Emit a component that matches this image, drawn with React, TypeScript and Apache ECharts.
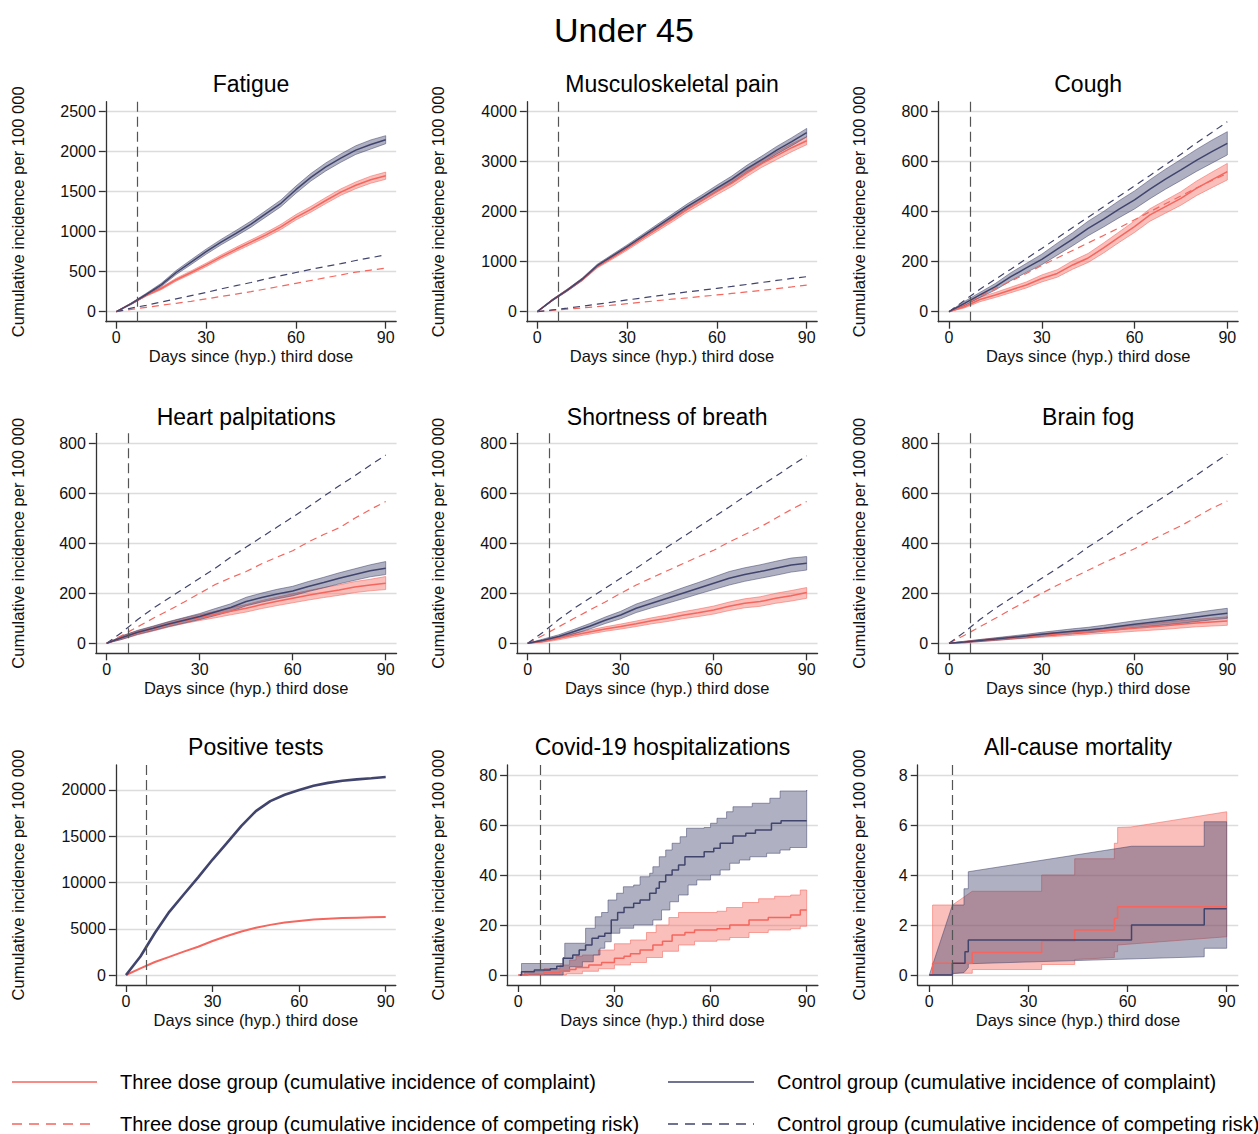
import React, { useEffect, useRef } from 'react';
import * as echarts from 'echarts';

type P = [number, number];

// ---------- DATA ----------
const DAYS = [0, 5, 10, 15, 20, 25, 30, 35, 40, 45, 50, 55, 60, 65, 70, 75, 80, 85, 90];

// Fatigue
const fatCtrl = [0, 100, 215, 335, 490, 620, 750, 870, 980, 1095, 1225, 1355, 1525, 1680, 1810, 1920, 2020, 2090, 2150];
const fatCtrlLo = [0, 90, 200, 315, 465, 590, 718, 836, 944, 1057, 1185, 1313, 1480, 1633, 1760, 1868, 1966, 2033, 2100];
const fatCtrlHi = [0, 110, 230, 355, 515, 650, 782, 904, 1016, 1133, 1265, 1397, 1570, 1727, 1860, 1972, 2074, 2147, 2200];
const fatThree = [0, 100, 205, 290, 400, 490, 585, 685, 780, 870, 960, 1060, 1180, 1280, 1390, 1495, 1580, 1650, 1700];
const fatThreeLo = [0, 92, 193, 275, 382, 470, 563, 661, 754, 842, 930, 1028, 1146, 1244, 1352, 1455, 1538, 1606, 1655];
const fatThreeHi = [0, 108, 217, 305, 418, 510, 607, 709, 806, 898, 990, 1092, 1214, 1316, 1428, 1535, 1622, 1694, 1745];
const fatCompCtrl = [0, 45, 80, 120, 160, 200, 240, 285, 325, 365, 410, 450, 490, 530, 565, 600, 640, 675, 710];
const fatCompThree = [0, 30, 55, 80, 105, 130, 160, 190, 220, 250, 285, 320, 355, 390, 425, 460, 495, 520, 545];

// Musculoskeletal pain
const mskCtrl = [0, 230, 430, 650, 920, 1110, 1300, 1500, 1700, 1900, 2100, 2280, 2470, 2650, 2860, 3040, 3230, 3400, 3580];
const mskCtrlLo = [0, 215, 410, 626, 892, 1078, 1264, 1460, 1656, 1852, 2048, 2224, 2410, 2586, 2792, 2968, 3154, 3320, 3495];
const mskCtrlHi = [0, 245, 450, 674, 948, 1142, 1336, 1540, 1744, 1948, 2152, 2336, 2530, 2714, 2928, 3112, 3306, 3480, 3665];
const mskThree = [0, 230, 430, 640, 900, 1080, 1265, 1460, 1650, 1840, 2040, 2220, 2400, 2570, 2770, 2960, 3120, 3280, 3420];
const mskThreeLo = [0, 215, 410, 616, 872, 1048, 1229, 1420, 1606, 1792, 1988, 2164, 2340, 2506, 2702, 2888, 3044, 3200, 3340];
const mskThreeHi = [0, 245, 450, 664, 928, 1112, 1301, 1500, 1694, 1888, 2092, 2276, 2460, 2634, 2838, 3032, 3196, 3360, 3500];
const mskCompCtrl = [0, 35, 70, 110, 150, 190, 235, 275, 315, 355, 395, 430, 467, 505, 545, 585, 625, 665, 700];
const mskCompThree = [0, 25, 50, 75, 100, 130, 160, 190, 220, 250, 275, 305, 335, 365, 395, 425, 460, 495, 533];

// Cough
const coughCtrl = [0, 33, 67, 100, 140, 175, 209, 250, 290, 333, 370, 410, 447, 490, 530, 567, 605, 640, 673];
const coughCtrlLo = [0, 25, 57, 87, 124, 157, 188, 226, 264, 304, 339, 376, 411, 452, 490, 525, 561, 594, 627];
const coughCtrlHi = [0, 41, 77, 113, 156, 193, 230, 274, 316, 362, 401, 444, 483, 528, 570, 609, 649, 686, 720];
const coughThree = [0, 20, 49, 67, 87, 107, 133, 153, 187, 215, 255, 298, 340, 387, 420, 453, 493, 527, 560];
const coughThreeLo = [0, 15, 40, 57, 76, 95, 119, 138, 170, 197, 235, 277, 317, 362, 394, 426, 464, 496, 527];
const coughThreeHi = [0, 25, 58, 77, 98, 119, 147, 168, 204, 233, 275, 319, 363, 412, 446, 480, 522, 558, 593];
const coughCompCtrl = [0, 45, 90, 130, 170, 212, 253, 295, 337, 378, 420, 462, 503, 545, 588, 630, 675, 717, 760];
const coughCompThree = [0, 30, 62, 93, 122, 153, 185, 215, 245, 275, 305, 335, 368, 400, 432, 463, 495, 525, 553];

// Heart palpitations
const heartCtrl = [0, 23, 44, 60, 77, 92, 107, 125, 143, 167, 183, 197, 209, 227, 243, 260, 275, 290, 300];
const heartCtrlLo = [0, 16, 36, 51, 67, 81, 95, 111, 128, 150, 165, 178, 190, 207, 222, 238, 252, 266, 275];
const heartCtrlHi = [0, 30, 52, 69, 87, 103, 119, 139, 158, 184, 201, 216, 228, 247, 264, 282, 298, 314, 327];
const heartThree = [0, 23, 42, 58, 75, 90, 103, 115, 128, 140, 155, 168, 180, 192, 203, 213, 225, 233, 240];
const heartThreeLo = [0, 16, 34, 49, 65, 79, 91, 102, 114, 125, 139, 151, 162, 173, 183, 192, 203, 210, 215];
const heartThreeHi = [0, 30, 50, 67, 85, 101, 115, 128, 142, 155, 171, 185, 198, 211, 223, 234, 247, 256, 267];
const heartCompCtrl = [0, 45, 95, 140, 180, 220, 260, 300, 345, 385, 425, 465, 505, 545, 588, 630, 670, 712, 753];
const heartCompThree = [0, 32, 66, 100, 132, 165, 200, 235, 262, 287, 318, 345, 370, 405, 435, 462, 500, 535, 567];

// Shortness of breath
const sobCtrl = [0, 12, 27, 47, 68, 92, 113, 140, 160, 180, 200, 220, 240, 260, 275, 287, 300, 313, 320];
const sobCtrlLo = [0, 7, 20, 38, 57, 79, 98, 123, 142, 160, 178, 197, 215, 233, 248, 260, 272, 285, 293];
const sobCtrlHi = [0, 17, 34, 56, 79, 105, 128, 157, 178, 200, 222, 243, 265, 287, 302, 314, 328, 341, 347];
const sobThree = [0, 8, 20, 33, 45, 57, 67, 78, 90, 100, 112, 122, 133, 148, 160, 167, 180, 190, 203];
const sobThreeLo = [0, 4, 14, 26, 37, 48, 57, 67, 78, 87, 98, 107, 117, 131, 142, 148, 160, 169, 180];
const sobThreeHi = [0, 12, 26, 40, 53, 66, 77, 89, 102, 113, 126, 137, 149, 165, 178, 186, 200, 211, 223];
const sobCompCtrl = [0, 45, 95, 140, 180, 220, 260, 300, 342, 385, 425, 465, 505, 545, 588, 628, 668, 710, 750];
const sobCompThree = [0, 32, 66, 100, 133, 165, 200, 233, 262, 290, 318, 346, 372, 405, 435, 465, 500, 535, 567];

// Brain fog
const fogCtrl = [0, 5, 11, 17, 23, 29, 36, 42, 48, 53, 60, 68, 76, 83, 90, 97, 105, 113, 120];
const fogCtrlLo = [0, 2, 7, 12, 17, 22, 28, 33, 38, 42, 48, 55, 62, 68, 74, 80, 87, 94, 100];
const fogCtrlHi = [0, 8, 15, 22, 29, 36, 44, 51, 58, 64, 72, 81, 90, 98, 106, 114, 123, 132, 140];
const fogThree = [0, 5, 11, 16, 21, 26, 31, 36, 40, 45, 50, 55, 60, 65, 70, 76, 81, 85, 89];
const fogThreeLo = [0, 2, 7, 11, 16, 20, 24, 28, 32, 36, 40, 44, 48, 52, 56, 61, 66, 69, 72];
const fogThreeHi = [0, 8, 15, 21, 26, 32, 38, 44, 48, 54, 60, 66, 72, 78, 84, 91, 96, 101, 106];
const fogCompCtrl = [0, 45, 95, 140, 180, 220, 260, 300, 340, 385, 425, 467, 510, 550, 590, 630, 672, 715, 756];
const fogCompThree = [0, 32, 66, 100, 135, 168, 200, 232, 262, 292, 322, 350, 378, 410, 440, 470, 505, 540, 569];

// Positive tests
const posCtrl = [0, 2000, 4540, 6830, 8700, 10560, 12480, 14280, 16120, 17710, 18800, 19480, 20000, 20450, 20770, 21000, 21150, 21270, 21400];
const posThree = [0, 710, 1410, 1960, 2530, 3060, 3680, 4220, 4710, 5100, 5420, 5680, 5840, 5990, 6090, 6160, 6200, 6230, 6260];

// Covid-19 hospitalizations: [day, value] step points
const hospCtrl: P[] = [[0.5, 0], [1, 1.3], [5, 2], [10, 2.5], [12, 3.5], [14, 6.7], [17, 8], [19, 10], [21, 12], [23, 14.7], [25, 15.5], [27, 16.7], [29, 22], [31, 25], [33, 27], [36, 28.7], [38, 30], [41, 32.7], [43, 34.7], [44, 37.3], [46, 40], [48, 42], [50, 44], [52, 47.3], [58, 49.3], [61, 50.7], [63, 52.7], [67, 55.6], [71, 56.7], [74, 58], [79, 60.7], [82, 61.7], [90, 61.7]];
const hospCtrlHi: P[] = [[0.5, 0], [1, 4.6], [13, 4.6], [14, 7], [14.5, 12.7], [20, 12.7], [21, 18.7], [24, 23.3], [26, 25], [28, 30], [30.7, 32.7], [32.8, 35.3], [36, 36], [38, 39.3], [41, 40.7], [42, 43.3], [44, 47.3], [46, 50], [48, 52.7], [50.5, 55.3], [52.5, 58.7], [58, 59], [60, 60.7], [62, 62.7], [65, 65.3], [67, 67.3], [73, 68.7], [78.5, 70.7], [81.7, 73.6], [90, 74]];
const hospCtrlLo: P[] = [[0.5, 0], [13, 0], [14, 1.5], [16, 3.3], [20, 5.3], [23.4, 8], [25.5, 10.7], [27, 13.3], [29, 16.7], [31.7, 18.7], [36, 20], [42, 22], [44.7, 26], [47.3, 29.3], [50, 32], [53, 36], [55.7, 38], [60, 40], [63, 42], [66, 44.7], [69, 46], [72.3, 47.3], [77.5, 48.7], [81.7, 50], [84.8, 51], [90, 51]];
const hospThree: P[] = [[0, 0], [3, 0.5], [8, 1], [13, 1.5], [16, 2.2], [18, 3], [22, 4], [26, 5], [30, 6.7], [33, 7.5], [35, 8.5], [38, 10], [42, 12], [45, 13.5], [48, 16], [52, 17], [55, 18], [62, 18.5], [66, 20], [72, 22], [78, 23], [85, 24], [88, 26], [90, 26]];
const hospThreeHi: P[] = [[0, 0], [2, 1.5], [8, 2.5], [13, 4], [16, 6], [18, 7.5], [20, 8], [25, 10], [30, 12.5], [35, 14], [40, 17], [43, 20], [47, 23], [50, 25], [62, 25.5], [65, 27], [70, 29], [75, 30.5], [80, 31.5], [85, 32], [88, 34], [90, 34]];
const hospThreeLo: P[] = [[0, 0], [10, 0], [15, 0.5], [20, 1.5], [25, 2.5], [30, 4], [35, 5], [40, 7], [45, 9.5], [50, 12], [55, 13.5], [62, 14], [66, 15], [72, 17], [78, 18], [85, 18.5], [88, 19.5], [90, 19.5]];

// All-cause mortality
const mortCtrl: P[] = [[0, 0], [7, 0.47], [10.8, 0.93], [11.8, 1.4], [61.2, 2.0], [83.2, 2.65], [90, 2.65]];
const mortCtrlHi: P[] = [[0, 0], [7, 2.8], [10.5, 2.8], [10.5, 3.45], [11.8, 3.45], [11.8, 4.13], [61.2, 5.15], [83.2, 5.15], [83.2, 6.13], [90, 6.13]];
const mortCtrlLo: P[] = [[0, 0], [7, 0], [7, 0.05], [10.5, 0.1], [11.8, 0.3], [11.8, 0.45], [83.2, 0.73], [83.2, 1.07], [90, 1.07]];
const mortThree: P[] = [[0, 0], [1, 0.47], [13, 0.9], [34, 1.35], [44, 1.8], [56, 2.27], [57, 2.73], [90, 2.73]];
const mortThreeHi: P[] = [[0, 0], [1, 0], [1, 2.8], [7, 2.8], [13, 3.35], [34, 3.35], [34, 4.0], [44, 4.0], [44, 4.65], [56, 4.65], [56, 5.27], [57, 5.27], [57, 5.9], [61, 5.92], [90, 6.53]];
const mortThreeLo: P[] = [[0, 0], [7, 0], [7, 0.07], [13, 0.07], [13, 0.22], [34, 0.22], [34, 0.42], [44, 0.42], [44, 0.62], [56, 0.7], [56, 0.93], [57, 0.93], [57, 1.2], [90, 1.53]];

const TITLES = ['Fatigue', 'Musculoskeletal pain', 'Cough', 'Heart palpitations', 'Shortness of breath', 'Brain fog', 'Positive tests', 'Covid-19 hospitalizations', 'All-cause mortality'];
const Y_TOPS = [2500, 4000, 800, 800, 800, 800, 20000, 80, 8];
const Y_STEPS = [500, 1000, 200, 200, 200, 200, 5000, 20, 2];
const LEGEND_LABELS = [
  'Three dose group (cumulative incidence of complaint)',
  'Three dose group (cumulative incidence of competing risk)',
  'Control group (cumulative incidence of complaint)',
  'Control group (cumulative incidence of competing risk)',
];
const MAIN_TITLE = 'Under 45';
const Y_NAME = 'Cumulative incidence per 100 000';
const X_NAME = 'Days since (hyp.) third dose';

// ---------- STYLE / LAYOUT ----------
const NAVY = '#41446d';
const SALMON = '#f4665e';
const NAVY_BAND = 'rgba(65,68,109,0.42)';
const SALMON_BAND = 'rgba(244,102,94,0.42)';
const NAVY_EDGE = 'rgba(65,68,109,0.65)';
const SALMON_EDGE = 'rgba(244,102,94,0.7)';
const FONT = 'Liberation Sans, Arial, Helvetica, sans-serif';
const TXT = '#111';
const AX = '#333';

const LAYOUT = [
  { x0: 116.3, x90: 385.7, top: 101.7, gap: 79 },
  { x0: 537.3, x90: 806.7, top: 101.7, gap: 80 },
  { x0: 949, x90: 1227.3, top: 101.7, gap: 70 },
  { x0: 106.7, x90: 385.7, top: 433.3, gap: 69 },
  { x0: 527.7, x90: 806.7, top: 433.3, gap: 70 },
  { x0: 949, x90: 1227.3, top: 433.3, gap: 70 },
  { x0: 126, x90: 385.7, top: 765, gap: 89 },
  { x0: 518.3, x90: 806.7, top: 765, gap: 60 },
  { x0: 929.3, x90: 1226.7, top: 765, gap: 50 },
];
const PLOT_H = 220;
const TITLE_Y = [84, 416.5, 747];
const X_MIN = -3.5;
const X_MAX = 93.5;

const zip = (xs: number[], ys: number[]): P[] => xs.map((x, i) => [x, ys[i]] as P);
const stepify = (pts: P[]): P[] => {
  const out: P[] = [];
  pts.forEach((p, i) => {
    out.push(p);
    if (i < pts.length - 1) out.push([pts[i + 1][0], p[1]]);
  });
  return out;
};

function band(gi: number, hi: P[], lo: P[], fill: string, edge: string, step: boolean) {
  return {
    type: 'custom',
    xAxisIndex: gi,
    yAxisIndex: gi,
    z: 1,
    silent: true,
    data: [[0, 0]],
    renderItem: (_params: any, api: any) => {
      const up = step ? stepify(hi) : hi;
      const dn = step ? stepify(lo) : lo;
      const pts = up.map((p) => api.coord(p)).concat(dn.slice().reverse().map((p) => api.coord(p)));
      return {
        type: 'polygon',
        shape: { points: pts },
        style: { fill, stroke: edge, lineWidth: 0.8 },
      };
    },
  };
}

function line(gi: number, pts: P[], color: string, opts: { dashed?: boolean; step?: boolean; width?: number } = {}) {
  return {
    type: 'line',
    xAxisIndex: gi,
    yAxisIndex: gi,
    data: pts,
    showSymbol: false,
    symbol: 'none',
    silent: true,
    z: opts.dashed ? 3 : 4,
    step: opts.step ? 'end' : false,
    lineStyle: { color, width: opts.width ?? (opts.dashed ? 1.2 : 1.5), type: opts.dashed ? [7, 5] : 'solid' },
    itemStyle: { color },
  };
}

function refLine(gi: number) {
  return {
    type: 'line',
    xAxisIndex: gi,
    yAxisIndex: gi,
    data: [],
    silent: true,
    markLine: {
      silent: true,
      symbol: ['none', 'none'],
      label: { show: false },
      lineStyle: { color: '#555', type: [10, 5], width: 1.2 },
      data: [{ xAxis: 7 }],
    },
  };
}

type ContPanel = { ctrl: number[]; ctrlLo: number[]; ctrlHi: number[]; three: number[]; threeLo: number[]; threeHi: number[]; compCtrl: number[]; compThree: number[] };
const CONT: ContPanel[] = [
  { ctrl: fatCtrl, ctrlLo: fatCtrlLo, ctrlHi: fatCtrlHi, three: fatThree, threeLo: fatThreeLo, threeHi: fatThreeHi, compCtrl: fatCompCtrl, compThree: fatCompThree },
  { ctrl: mskCtrl, ctrlLo: mskCtrlLo, ctrlHi: mskCtrlHi, three: mskThree, threeLo: mskThreeLo, threeHi: mskThreeHi, compCtrl: mskCompCtrl, compThree: mskCompThree },
  { ctrl: coughCtrl, ctrlLo: coughCtrlLo, ctrlHi: coughCtrlHi, three: coughThree, threeLo: coughThreeLo, threeHi: coughThreeHi, compCtrl: coughCompCtrl, compThree: coughCompThree },
  { ctrl: heartCtrl, ctrlLo: heartCtrlLo, ctrlHi: heartCtrlHi, three: heartThree, threeLo: heartThreeLo, threeHi: heartThreeHi, compCtrl: heartCompCtrl, compThree: heartCompThree },
  { ctrl: sobCtrl, ctrlLo: sobCtrlLo, ctrlHi: sobCtrlHi, three: sobThree, threeLo: sobThreeLo, threeHi: sobThreeHi, compCtrl: sobCompCtrl, compThree: sobCompThree },
  { ctrl: fogCtrl, ctrlLo: fogCtrlLo, ctrlHi: fogCtrlHi, three: fogThree, threeLo: fogThreeLo, threeHi: fogThreeHi, compCtrl: fogCompCtrl, compThree: fogCompThree },
];

function buildOption() {
  const grids: any[] = [];
  const xAxes: any[] = [];
  const yAxes: any[] = [];
  const series: any[] = [];
  const graphics: any[] = [];

  LAYOUT.forEach((L, i) => {
    const ppd = (L.x90 - L.x0) / 90;
    const left = L.x0 + X_MIN * ppd;
    const width = (X_MAX - X_MIN) * ppd;
    grids.push({ left, top: L.top, width, height: PLOT_H, containLabel: false, outerBoundsMode: 'none', show: false });
    xAxes.push({
      gridIndex: i,
      type: 'value',
      min: X_MIN,
      max: X_MAX,
      minInterval: 30,
      maxInterval: 30,
      axisLine: { show: true, onZero: false, lineStyle: { color: AX, width: 1.3 } },
      axisTick: { show: true, length: 7, lineStyle: { color: AX, width: 1.3 } },
      axisLabel: { showMinLabel: false, showMaxLabel: false, fontSize: 16, color: TXT, fontFamily: FONT, margin: 8, formatter: (v: number) => String(v) },
      splitLine: { show: false },
      name: X_NAME,
      nameLocation: 'middle',
      nameGap: 26,
      nameTextStyle: { fontSize: 16.5, color: TXT, fontFamily: FONT },
    });
    const T = Y_TOPS[i];
    yAxes.push({
      gridIndex: i,
      type: 'value',
      min: i === 6 ? -1080 : -0.05 * T,
      max: i === 6 ? 22700 : 1.05 * T,
      minInterval: Y_STEPS[i],
      maxInterval: Y_STEPS[i],
      axisLine: { show: true, onZero: false, lineStyle: { color: AX, width: 1.3 } },
      axisTick: { show: true, length: 7, lineStyle: { color: AX, width: 1.3 } },
      axisLabel: { showMinLabel: false, showMaxLabel: false, fontSize: 16, color: TXT, fontFamily: FONT, margin: 10, formatter: (v: number) => String(v) },
      splitLine: { show: true, showMinLine: false, showMaxLine: false, lineStyle: { color: '#dcdcdc', width: 1.4 } },
      name: Y_NAME,
      nameLocation: 'middle',
      nameGap: L.gap,
      nameTextStyle: { fontSize: 16.6, color: TXT, fontFamily: FONT },
    });
    graphics.push({
      type: 'text',
      x: left + width / 2,
      y: TITLE_Y[Math.floor(i / 3)],
      style: { text: TITLES[i], fontSize: 23, fontFamily: FONT, fill: '#000', align: 'center', verticalAlign: 'middle', textAlign: 'center', textVerticalAlign: 'middle' },
    });
  });

  // continuous panels
  CONT.forEach((c, i) => {
    series.push(band(i, zip(DAYS, c.threeHi), zip(DAYS, c.threeLo), SALMON_BAND, SALMON_EDGE, false));
    series.push(band(i, zip(DAYS, c.ctrlHi), zip(DAYS, c.ctrlLo), NAVY_BAND, NAVY_EDGE, false));
    series.push(line(i, zip(DAYS, c.compThree), SALMON, { dashed: true }));
    series.push(line(i, zip(DAYS, c.compCtrl), NAVY, { dashed: true }));
    series.push(line(i, zip(DAYS, c.three), SALMON));
    series.push(line(i, zip(DAYS, c.ctrl), NAVY));
    series.push(refLine(i));
  });

  // positive tests
  series.push(line(6, zip(DAYS, posThree), SALMON, { width: 2 }));
  series.push(line(6, zip(DAYS, posCtrl), NAVY, { width: 2.6 }));
  series.push(refLine(6));

  // hospitalizations
  series.push(band(7, hospThreeHi, hospThreeLo, SALMON_BAND, SALMON_EDGE, true));
  series.push(band(7, hospCtrlHi, hospCtrlLo, NAVY_BAND, NAVY_EDGE, true));
  series.push(line(7, hospThree, SALMON, { step: true }));
  series.push(line(7, hospCtrl, NAVY, { step: true }));
  series.push(refLine(7));

  // mortality
  series.push(band(8, mortThreeHi, mortThreeLo, SALMON_BAND, SALMON_EDGE, false));
  series.push(band(8, mortCtrlHi, mortCtrlLo, NAVY_BAND, NAVY_EDGE, false));
  series.push(line(8, mortThree, SALMON, { step: true }));
  series.push(line(8, mortCtrl, NAVY, { step: true }));
  series.push(refLine(8));

  // main title
  graphics.push({
    type: 'text',
    x: 624,
    y: 30,
    style: { text: MAIN_TITLE, fontSize: 34, fontFamily: FONT, fill: '#000', align: 'center', verticalAlign: 'middle', textAlign: 'center', textVerticalAlign: 'middle' },
  });

  // legend
  const legendItems = [
    { x1: 12, x2: 97, tx: 120, y: 1082, color: SALMON, dash: false, label: LEGEND_LABELS[0] },
    { x1: 12, x2: 97, tx: 120, y: 1124, color: SALMON, dash: true, label: LEGEND_LABELS[1] },
    { x1: 668, x2: 754, tx: 777, y: 1082, color: NAVY, dash: false, label: LEGEND_LABELS[2] },
    { x1: 668, x2: 754, tx: 777, y: 1124, color: NAVY, dash: true, label: LEGEND_LABELS[3] },
  ];
  legendItems.forEach((it) => {
    graphics.push({
      type: 'line',
      shape: { x1: it.x1, y1: it.y, x2: it.x2, y2: it.y },
      style: { stroke: it.color, lineWidth: 1.6, lineDash: it.dash ? [10, 7] : null },
    });
    graphics.push({
      type: 'text',
      x: it.tx,
      y: it.y,
      style: { text: it.label, fontSize: 20, fontFamily: FONT, fill: '#000', align: 'left', verticalAlign: 'middle', textAlign: 'left', textVerticalAlign: 'middle' },
    });
  });

  return {
    animation: false,
    backgroundColor: '#ffffff',
    textStyle: { fontFamily: FONT },
    grid: grids,
    xAxis: xAxes,
    yAxis: yAxes,
    series,
    graphic: graphics,
  };
}

export default function App() {
  const ref = useRef<HTMLDivElement>(null);
  useEffect(() => {
    document.body.style.margin = '0';
    if (!ref.current) return;
    const chart = echarts.init(ref.current, undefined, { renderer: 'svg' });
    chart.setOption(buildOption() as any);
    return () => chart.dispose();
  }, []);
  return <div ref={ref} style={{ width: 1258, height: 1134, background: '#fff' }} />;
}
